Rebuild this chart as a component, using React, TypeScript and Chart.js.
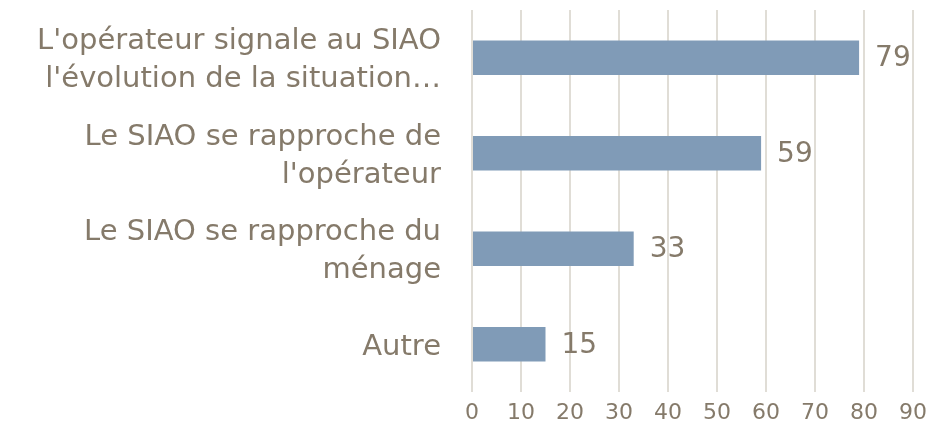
import React, { useEffect, useRef } from "react";
import { Chart, registerables } from "chart.js";

Chart.register(...registerables);

const categories: string[][] = [
  ["L'opérateur signale au SIAO", "l'évolution de la situation…"],
  ["Le SIAO se rapproche de", "l'opérateur"],
  ["Le SIAO se rapproche du", "ménage"],
  ["Autre"],
];
const values: number[] = [79, 59, 33, 15];
const xMin = 0;
const xMax = 90;
const xStep = 10;

const TEXT = "#857a6a";
const FONT = "'DejaVu Sans', sans-serif";

const valueLabels = {
  id: "valueLabels",
  afterDatasetsDraw(chart: any) {
    const ctx = chart.ctx;
    const meta = chart.getDatasetMeta(0);
    ctx.save();
    ctx.fillStyle = TEXT;
    ctx.font = `28px ${FONT}`;
    ctx.textAlign = "left";
    ctx.textBaseline = "middle";
    meta.data.forEach((el: any, i: number) => {
      ctx.fillText(String(values[i]), el.x + 16, el.y + 1);
    });
    ctx.restore();
  },
};

export default function App() {
  const ref = useRef<HTMLCanvasElement | null>(null);
  useEffect(() => {
    if (!ref.current) return;
    const chart = new Chart(ref.current, {
      type: "bar",
      data: {
        labels: categories,
        datasets: [
          {
            data: values,
            backgroundColor: "#809bb7",
            borderWidth: 0,
            barPercentage: 0.36,
            categoryPercentage: 1,
          },
        ],
      },
      options: {
        indexAxis: "y",
        animation: false,
        responsive: false,
        maintainAspectRatio: false,
        layout: { padding: { top: 10, right: 16, left: 0, bottom: 0 } },
        plugins: { legend: { display: false }, tooltip: { enabled: false } },
        scales: {
          x: {
            min: xMin,
            max: xMax,
            ticks: {
              stepSize: xStep,
              color: TEXT,
              font: { family: FONT, size: 22 },
              padding: 8,
            },
            grid: { color: "#e0ddd6", lineWidth: 2, drawTicks: false },
            border: { display: false },
            afterFit: (s: any) => {
              s.height = 43;
              s.paddingLeft = 0;
              s.paddingRight = 0;
            },
          },
          y: {
            ticks: {
              color: TEXT,
              font: { family: FONT, size: 29, lineHeight: 1.3 },
              padding: 23,
              labelOffset: 3,
            },
            grid: { display: false },
            border: { display: false },
            afterFit: (s: any) => {
              s.width = 472;
              s.paddingTop = 0;
              s.paddingBottom = 0;
            },
          },
        },
      },
      plugins: [valueLabels],
    });
    return () => chart.destroy();
  }, []);
  return (
    <div style={{ position: "fixed", left: 0, top: 0, width: 929, height: 435, background: "#fff" }}>
      <canvas ref={ref} width={929} height={435} style={{ display: "block" }} />
    </div>
  );
}
